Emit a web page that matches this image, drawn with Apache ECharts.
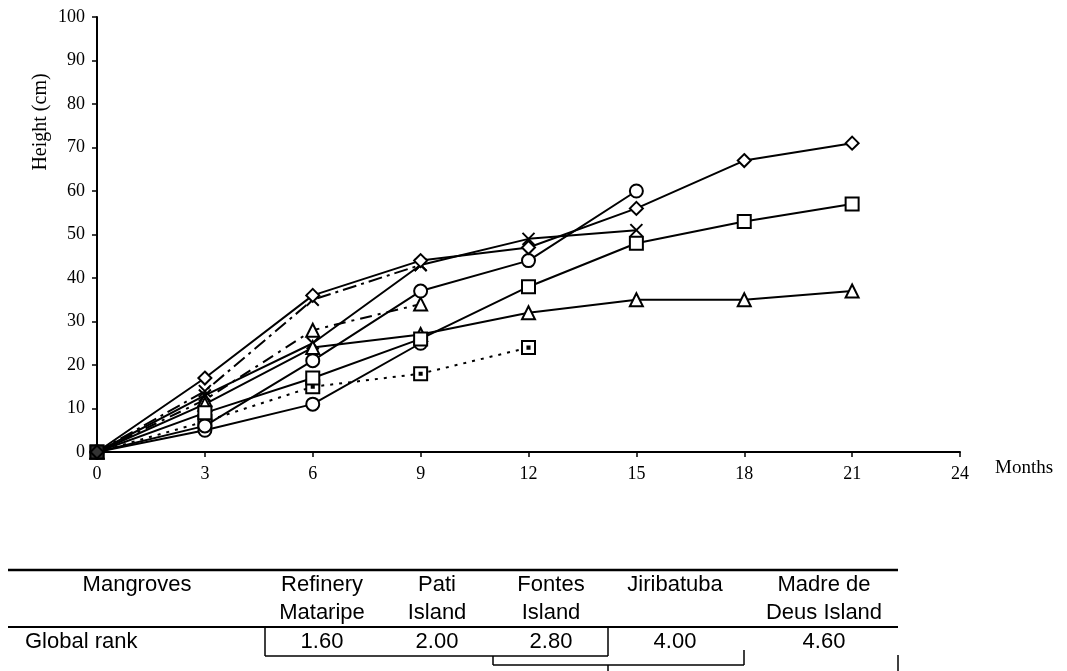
<!DOCTYPE html>
<html>
<head>
<meta charset="utf-8">
<script src="https://cdn.jsdelivr.net/npm/echarts@6/dist/echarts.min.js"></script>
<style>
  html, body { margin: 0; padding: 0; background: #fff; }
  #main { width: 1067px; height: 671px; }
</style>
</head>
<body>
<div id="main"></div>
<script>
// months on the x axis
var months = [0, 3, 6, 9, 12, 15, 18, 21];

// heights (cm), one array per curve
var diamondSolid = [0, 17, 36, 44, 47, 56, 67, 71];
var squareSolid = [0, 9, 17, 26, 38, 48, 53, 57];
var triangleSolid = [0, 11, 24, 27, 32, 35, 35, 37];
var circleLong = [0, 6, 21, 37, 44, 60];
var circleShort = [0, 5, 11, 25];
var crossSolid = [0, 13, 25, 43, 49, 51];
var crossDashed = [0, 14, 35, 43];
var triangleDashed = [0, 12, 28, 34];
var squareDotted = [0, 7, 15, 18, 24];
var origin = [[0, 0]];

// table under the chart
var tableHeads = [["Refinery", "Mataripe"], ["Pati", "Island"], ["Fontes", "Island"], ["Jiribatuba", ""], ["Madre de", "Deus Island"]];
var globalRank = ["1.60", "2.00", "2.80", "4.00", "4.60"];

var SYM_X = "path://M0,0L10,10M10,0L0,10";
var SYM_DOTSQ = "path://M0,0H10V10H0Z M4.2,4.2H5.8V5.8H4.2Z";

function pairs(vals) {
  return vals.map(function (v, i) { return [months[i], v]; });
}

function line(vals, symbol, type) {
  return {
    type: "line",
    data: pairs(vals),
    symbol: symbol,
    symbolSize: symbol === SYM_X ? 12 : 13,
    showAllSymbol: true,
    lineStyle: { color: "#000", width: 2, type: type || "solid" },
    itemStyle: { color: "#fff", borderColor: "#000", borderWidth: 2 },
    emphasis: { disabled: true },
    animation: false,
    z: 3
  };
}

var chart = echarts.init(document.getElementById("main"));

// table graphics
var colX = [322, 437, 551, 675, 824];
var graphics = [];
var txt = function (x, y, s, align) {
  graphics.push({
    type: "text", x: x, y: y,
    style: { text: s, x: 0, y: 0, fill: "#000", font: "22px 'Liberation Sans', Arial", textAlign: align || "center", textVerticalAlign: "middle" }
  });
};
var seg = function (x1, y1, x2, y2, w) {
  graphics.push({ type: "line", shape: { x1: x1, y1: y1, x2: x2, y2: y2 }, style: { stroke: "#000", lineWidth: w || 1.5 } });
};

txt(137, 585, "Mangroves");
tableHeads.forEach(function (h, i) {
  txt(colX[i], 585, h[0]);
  if (h[1]) txt(colX[i], 613, h[1]);
});
txt(25, 642, "Global rank", "left");
globalRank.forEach(function (v, i) { txt(colX[i], 642, v); });

seg(8, 570, 898, 570, 2.5);
seg(8, 627, 898, 627, 2);
// bracket around the first three sites
seg(265, 627, 265, 656);
seg(265, 656, 608, 656);
seg(608, 627, 608, 656);
// second bracket
seg(493, 656, 493, 665);
seg(493, 665, 744, 665);
seg(744, 650, 744, 665);
seg(608, 665, 608, 671);
seg(898, 655, 898, 671);

// axis names
graphics.push({
  type: "text", x: 41, y: 122, rotation: Math.PI / 2,
  style: { text: "Height (cm)", fill: "#000", font: "20px 'Liberation Serif'", textAlign: "center", textVerticalAlign: "middle" }
});
graphics.push({
  type: "text", x: 995, y: 468,
  style: { text: "Months", fill: "#000", font: "19px 'Liberation Serif'", textAlign: "left", textVerticalAlign: "middle" }
});

var option = {
  backgroundColor: "#fff",
  animation: false,
  grid: { left: 97, right: 107, top: 17, bottom: 219, containLabel: false },
  xAxis: {
    type: "value", min: 0, max: 24, interval: 3,
    axisLine: { lineStyle: { color: "#000", width: 2 } },
    axisTick: { show: true, length: 5, inside: false, lineStyle: { color: "#000", width: 1.5 } },
    axisLabel: { color: "#000", fontFamily: "Liberation Serif", fontSize: 18, margin: 13 },
    splitLine: { show: false }
  },
  yAxis: {
    type: "value", min: 0, max: 100, interval: 10,
    axisLine: { show: true, lineStyle: { color: "#000", width: 2 } },
    axisTick: { show: true, length: 5, inside: false, lineStyle: { color: "#000", width: 1.5 } },
    axisLabel: { color: "#000", fontFamily: "Liberation Serif", fontSize: 18, margin: 12 },
    splitLine: { show: false }
  },
  graphic: graphics,
  series: [
    line(squareDotted, SYM_DOTSQ, [3, 6]),
    line(crossDashed, SYM_X, [14, 5, 3, 5]),
    line(triangleDashed, "triangle", [12, 6, 3, 6]),
    line(circleShort, "circle"),
    line(circleLong, "circle"),
    line(crossSolid, SYM_X),
    line(triangleSolid, "triangle"),
    line(squareSolid, "rect"),
    line(diamondSolid, "diamond"),
    {
      type: "scatter", data: origin, symbol: "rect", symbolSize: 14,
      itemStyle: { color: "#000" }, z: 5, animation: false
    }
  ]
};

chart.setOption(option);
</script>
</body>
</html>
